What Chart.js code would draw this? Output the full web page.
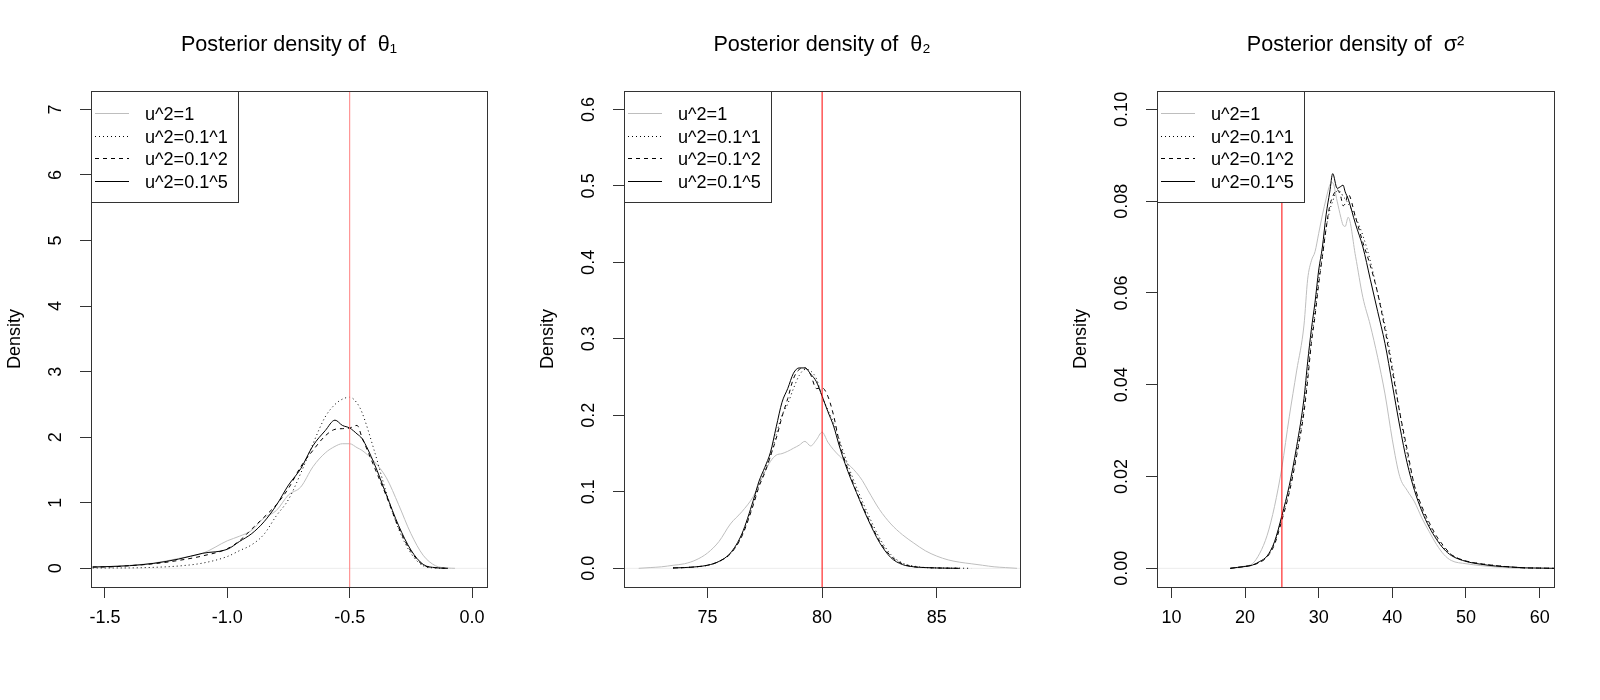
<!DOCTYPE html>
<html>
<head>
<meta charset="utf-8">
<script src="https://cdn.jsdelivr.net/npm/chart.js@4.4.1/dist/chart.umd.min.js"></script>
<style>
  html, body { margin: 0; padding: 0; background: #fff; }
  canvas { position: absolute; top: 0; }
</style>
</head>
<body>
<canvas id="c1" width="533" height="700" style="left:0px"></canvas>
<canvas id="c2" width="533" height="700" style="left:533px"></canvas>
<canvas id="c3" width="534" height="700" style="left:1066px"></canvas>
<script>
// series names and titles
const legendLabels = ['u^2=1', 'u^2=0.1^1', 'u^2=0.1^2', 'u^2=0.1^5'];
const titles = ['Posterior density of  θ₁', 'Posterior density of  θ₂', 'Posterior density of  σ²'];
const trueValues = [-0.5, 80, 25];

// theta1
const theta1Grid = [-1.55, -1.5, -1.4, -1.3, -1.2, -1.1, -1.0, -0.95, -0.9, -0.85, -0.8, -0.75, -0.7, -0.65, -0.6, -0.56, -0.53, -0.5, -0.47, -0.45, -0.4, -0.35, -0.3, -0.25, -0.2, -0.15, -0.1, -0.07];
const theta1U1 = [0.02, 0.025, 0.045, 0.08, 0.15, 0.23, 0.42, 0.49, 0.58, 0.77, 0.88, 1.12, 1.24, 1.55, 1.76, 1.86, 1.90, 1.90, 1.84, 1.80, 1.63, 1.38, 0.97, 0.53, 0.2, 0.04, 0.005, 0];
const theta1U01 = [0.005, 0.005, 0.006, 0.015, 0.035, 0.08, 0.18, 0.27, 0.36, 0.52, 0.8, 1.05, 1.45, 1.9, 2.31, 2.5, 2.58, 2.61, 2.52, 2.38, 1.8, 1.15, 0.6, 0.23, 0.04, 0.005, 0, null];
const theta1U001 = [0.02, 0.02, 0.04, 0.07, 0.12, 0.19, 0.3, 0.42, 0.6, 0.78, 0.97, 1.22, 1.55, 1.8, 2.02, 2.12, 2.13, 2.14, 2.18, 2.0, 1.55, 1.1, 0.62, 0.26, 0.05, 0.01, 0, null];
const theta1U00001 = [0.02, 0.025, 0.04, 0.076, 0.14, 0.23, 0.29, 0.41, 0.53, 0.71, 0.96, 1.27, 1.52, 1.87, 2.1, 2.26, 2.18, 2.14, 2.05, 1.98, 1.6, 1.12, 0.65, 0.28, 0.06, 0.01, 0, null];
const theta1XTicks = [-1.5, -1.0, -0.5, 0.0];
const theta1YTicks = [0, 1, 2, 3, 4, 5, 6, 7];

// theta2
const theta2Grid = [72, 72.5, 73, 73.5, 74, 74.5, 75, 75.5, 76, 76.5, 77, 77.25, 77.5, 77.75, 78, 78.25, 78.5, 78.75, 79, 79.25, 79.5, 79.75, 80, 80.25, 80.5, 80.75, 81, 81.25, 81.5, 81.75, 82, 82.5, 83, 83.5, 84, 84.5, 85, 85.5, 86, 86.5, 87, 87.5, 88, 88.5];
const theta2U1 = [0, 0.001, 0.002, 0.004, 0.006, 0.011, 0.02, 0.035, 0.058, 0.074, 0.094, 0.11, 0.126, 0.14, 0.148, 0.15, 0.153, 0.157, 0.161, 0.166, 0.16, 0.168, 0.178, 0.165, 0.155, 0.147, 0.14, 0.133, 0.125, 0.115, 0.102, 0.077, 0.058, 0.044, 0.033, 0.023, 0.016, 0.011, 0.008, 0.006, 0.004, 0.002, 0.001, 0];
const theta2U01 = [null, null, null, 0.0005, 0.001, 0.002, 0.004, 0.009, 0.019, 0.043, 0.085, 0.11, 0.128, 0.147, 0.175, 0.2, 0.215, 0.235, 0.252, 0.26, 0.258, 0.248, 0.225, 0.207, 0.19, 0.168, 0.146, 0.125, 0.106, 0.088, 0.071, 0.04, 0.018, 0.007, 0.003, 0.001, 0.0005, 0.0003, 0.0002, 0, null, null, null, null];
const theta2U001 = [null, null, null, 0.0005, 0.001, 0.002, 0.004, 0.009, 0.019, 0.042, 0.083, 0.107, 0.125, 0.147, 0.17, 0.198, 0.222, 0.248, 0.26, 0.262, 0.253, 0.235, 0.236, 0.225, 0.2, 0.165, 0.14, 0.12, 0.1, 0.083, 0.066, 0.036, 0.016, 0.006, 0.002, 0.001, 0.0005, 0.0002, 0, null, null, null, null, null];
const theta2U00001 = [null, null, null, 0.0005, 0.001, 0.002, 0.004, 0.009, 0.02, 0.045, 0.089, 0.114, 0.132, 0.152, 0.185, 0.217, 0.235, 0.255, 0.262, 0.262, 0.254, 0.244, 0.225, 0.205, 0.186, 0.16, 0.137, 0.117, 0.099, 0.081, 0.064, 0.034, 0.014, 0.005, 0.002, 0.001, 0.0005, 0.0002, 0, null, null, null, null, null];
const theta2XTicks = [75, 80, 85];
const theta2YTicks = [0, 0.1, 0.2, 0.3, 0.4, 0.5, 0.6];

// sigma^2
const sigmaGrid = [18, 19, 20, 21, 22, 23, 24, 25, 26, 27, 28, 28.5, 29, 29.5, 30, 30.5, 31, 31.5, 31.9, 32.5, 33, 33.3, 33.6, 34, 35, 36, 37, 38, 39, 40, 41, 42, 43, 44, 45, 46, 47, 48, 50, 52, 54, 56, 58, 60, 62];
const sigmaU1 = [0, 0.0002, 0.0005, 0.001, 0.0033, 0.0072, 0.0135, 0.022, 0.033, 0.043, 0.053, 0.063, 0.067, 0.069, 0.073, 0.077, 0.0805, 0.0835, 0.084, 0.08, 0.0765, 0.0748, 0.0745, 0.0765, 0.068, 0.059, 0.053, 0.046, 0.038, 0.028, 0.02, 0.017, 0.0145, 0.011, 0.008, 0.0052, 0.003, 0.0017, 0.001, 0.0006, 0.0003, 0.0001, 0, null, null];
const sigmaU01 = [0, 0.0002, 0.0004, 0.0007, 0.0014, 0.0026, 0.0055, 0.011, 0.017, 0.025, 0.035, 0.042, 0.05, 0.056, 0.063, 0.068, 0.074, 0.078, 0.08, 0.0822, 0.082, 0.081, 0.0805, 0.0795, 0.0765, 0.0725, 0.067, 0.06, 0.053, 0.044, 0.034, 0.025, 0.018, 0.013, 0.0095, 0.0065, 0.0045, 0.003, 0.0016, 0.001, 0.0006, 0.0003, 0.0001, 0.00005, 0];
const sigmaU001 = [0, 0.0002, 0.0004, 0.0007, 0.0013, 0.0025, 0.0052, 0.0105, 0.0165, 0.0245, 0.034, 0.041, 0.049, 0.055, 0.062, 0.068, 0.074, 0.079, 0.081, 0.0825, 0.081, 0.079, 0.0795, 0.0815, 0.0765, 0.071, 0.066, 0.06, 0.052, 0.043, 0.034, 0.026, 0.018, 0.0135, 0.01, 0.007, 0.0048, 0.003, 0.0016, 0.001, 0.0006, 0.0003, 0.0001, 0.00005, 0];
const sigmaU00001 = [0, 0.0002, 0.0004, 0.0007, 0.0015, 0.0027, 0.0058, 0.0115, 0.018, 0.0265, 0.037, 0.045, 0.052, 0.058, 0.065, 0.07, 0.077, 0.082, 0.086, 0.0828, 0.0832, 0.0835, 0.082, 0.0805, 0.075, 0.07, 0.063, 0.056, 0.049, 0.04, 0.031, 0.023, 0.017, 0.0125, 0.009, 0.0063, 0.0042, 0.0028, 0.0015, 0.0009, 0.0005, 0.0003, 0.0001, 0.00005, 0];
const sigmaXTicks = [10, 20, 30, 40, 50, 60];
const sigmaYTicks = [0, 0.02, 0.04, 0.06, 0.08, 0.10];

const FONT = "'Liberation Sans', Arial, Helvetica, sans-serif";
const lineColors = ['#bebebe', '#000000', '#000000', '#000000'];
const lineDashes = [[], [1, 3], [4, 4], []];

// box round the plot region and the legend in its top left corner
const framePlugin = {
  id: 'frame',
  afterDraw(chart) {
    const { ctx, chartArea: a } = chart;
    ctx.save();
    const lx = Math.round(a.left) + 0.5, ly = Math.round(a.top) + 0.5;
    const lw = 147, lh = 111;
    ctx.fillStyle = '#fff';
    ctx.fillRect(lx, ly, lw, lh);
    ctx.strokeStyle = '#333';
    ctx.lineWidth = 1;
    ctx.setLineDash([]);
    ctx.strokeRect(lx, ly, lw, lh);
    // size the text so that the longest label spans what it spans in the original
    ctx.font = '18px ' + FONT;
    const w = ctx.measureText('u^2=0.1^1').width;
    const fs = Math.min(20, Math.max(15, 18 * 83 / w));
    ctx.font = fs.toFixed(1) + 'px ' + FONT;
    ctx.textBaseline = 'middle';
    ctx.textAlign = 'left';
    chart.data.datasets.filter(d => d.inLegend).forEach((d, i) => {
      const y = Math.round(a.top + 22 + i * 22.7) + 0.5;
      ctx.strokeStyle = d.borderColor;
      ctx.setLineDash(d.borderDash);
      ctx.beginPath();
      ctx.moveTo(a.left + 4, y);
      ctx.lineTo(a.left + 38, y);
      ctx.stroke();
      ctx.setLineDash([]);
      ctx.fillStyle = '#000';
      ctx.fillText(d.label, a.left + 54, y + 1);
    });
    ctx.strokeStyle = '#333';
    ctx.strokeRect(Math.round(a.left) + 0.5, Math.round(a.top) + 0.5, Math.round(a.right - a.left), Math.round(a.bottom - a.top));
    ctx.restore();
  }
};

function makePanel(id, title, grid, series, truth, xr, yr, xTicks, yTicks, xDec, yDec, tickPad, truthColor) {
  const curves = series.map((ys, i) => ({
    label: legendLabels[i],
    inLegend: true,
    data: grid.map((x, j) => ({ x: x, y: ys[j] })),
    borderColor: lineColors[i],
    borderDash: lineDashes[i],
    borderWidth: 1,
    pointRadius: 0,
    cubicInterpolationMode: 'monotone',
    order: 4 - i
  }));
  const zeroLine = {
    label: 'zero',
    data: [{ x: xr[0], y: 0 }, { x: xr[1], y: 0 }],
    borderColor: '#ececec', borderWidth: 1, pointRadius: 0, order: 9
  };
  const truthLine = {
    label: 'true',
    data: [{ x: truth, y: yr[0] }, { x: truth, y: yr[1] }],
    borderColor: truthColor, borderWidth: 1, pointRadius: 0, order: 0
  };
  new Chart(document.getElementById(id), {
    type: 'line',
    data: { datasets: curves.concat([zeroLine, truthLine]) },
    options: {
      responsive: false,
      animation: false,
      layout: { padding: { left: 0, top: 0, right: 46, bottom: 0 } },
      plugins: {
        legend: { display: false },
        tooltip: { enabled: false },
        title: {
          display: true, text: title, fullSize: false, color: '#000',
          font: { family: FONT, size: 21.6, weight: 'normal' },
          padding: { top: 32.5, bottom: 32.6 }
        }
      },
      scales: {
        x: {
          type: 'linear', min: xr[0], max: xr[1], bounds: 'data',
          afterBuildTicks: s => { s.ticks = xTicks.map(v => ({ value: v })); },
          afterFit: s => { s.height = 113; },
          grid: { drawOnChartArea: false, drawTicks: true, tickLength: 11, tickColor: '#333' },
          border: { display: false },
          ticks: {
            color: '#000', padding: 9, minRotation: 0, maxRotation: 0, autoSkip: false,
            font: { family: FONT, size: 18 },
            callback: v => v.toFixed(xDec)
          }
        },
        y: {
          type: 'linear', min: yr[0], max: yr[1], bounds: 'data',
          afterBuildTicks: s => { s.ticks = yTicks.map(v => ({ value: v })); },
          afterFit: s => { s.width = 91; },
          grid: { drawOnChartArea: false, drawTicks: true, tickLength: 11, tickColor: '#333' },
          border: { display: false },
          title: {
            display: true, text: 'Density', color: '#000',
            font: { family: FONT, size: 18 }, padding: { top: 4.2, bottom: 0 }
          },
          ticks: {
            color: '#000', padding: tickPad, minRotation: 90, maxRotation: 90,
            crossAlign: 'center', autoSkip: false,
            font: { family: FONT, size: 18 },
            callback: v => v.toFixed(yDec)
          }
        }
      }
    },
    plugins: [framePlugin]
  });
}

makePanel('c1', titles[0], theta1Grid, [theta1U1, theta1U01, theta1U001, theta1U00001], trueValues[0],
  [-1.557, 0.061], [-0.285, 7.28], theta1XTicks, theta1YTicks, 1, 0, 18.5, '#ff7f7f');
makePanel('c2', titles[1], theta2Grid, [theta2U1, theta2U01, theta2U001, theta2U00001], trueValues[1],
  [71.36, 88.63], [-0.0244, 0.624], theta2XTicks, theta2YTicks, 0, 1, 11, '#ff0000');
makePanel('c3', titles[2], sigmaGrid, [sigmaU1, sigmaU01, sigmaU001, sigmaU00001], trueValues[2],
  [8.04, 61.95], [-0.00407, 0.104], sigmaXTicks, sigmaYTicks, 0, 2, 6, '#ff0000');
</script>
</body>
</html>
